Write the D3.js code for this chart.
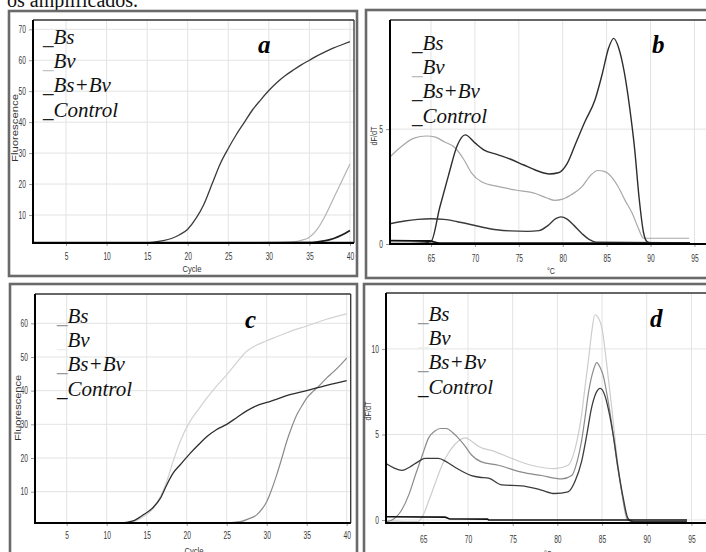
<!DOCTYPE html>
<html>
<head>
<meta charset="utf-8">
<script src="https://cdn.jsdelivr.net/npm/d3@7"></script>
<style>
body { margin: 0; background: #fff; }
svg { display: block; }
</style>
</head>
<body>
<svg id="chart" width="706" height="552"></svg>
<script>
// ---- data ----
var legendNames = ["Bs", "Bv", "Bs+Bv", "Control"];
var panelLetters = ["a", "b", "c", "d"];
var cycleTicks = [5, 10, 15, 20, 25, 30, 35, 40];
var tempTicks = [65, 70, 75, 80, 85, 90, 95];
var aYTicks = [10, 20, 30, 40, 50, 60, 70];
var bYTicks = [0, 5];
var cYTicks = [10, 20, 30, 40, 50, 60];
var dYTicks = [0, 5, 10];

// a: amplification (cycle, fluorescence)
var aBs = [[1,1],[15,1.05],[16,1.3],[17,1.7],[18,2.4],[19,3.6],[20,5.4],[21,8.8],[22,13.5],[23,20],[24,26.5],[25,31.5],[26,36],[27,40],[28,44],[29,47.2],[30,50.2],[31,52.8],[32,55],[33,56.8],[34,58.5],[35,60],[36,61.5],[37,62.8],[38,64],[39,65],[40,66]];
var aBv = [[1,1],[31,1.05],[33,1.3],[34,1.8],[35,2.8],[36,5.5],[37,10],[38,15.5],[39,21],[40,26.5]];
var aBsBv = [[1,1],[35,1.05],[36,1.3],[37,1.7],[38,2.4],[39,3.5],[40,5]];
var aCtrl = [[1,1],[40.5,1]];

// b: melt curve (°C, dF/dT)
var bBs = [[60.35,0.02],[64.3,0.05],[65,0.1],[66,1.6],[67,3.0],[68,4.3],[68.9,4.75],[70,4.4],[71,4.1],[72.5,3.9],[74,3.7],[75.5,3.45],[77,3.2],[78.5,3.05],[79.5,3.1],[80.5,3.5],[81.5,4.4],[82.5,5.3],[83.7,6.3],[84.5,7.4],[85.2,8.5],[85.8,8.95],[86.4,8.5],[87,7.5],[87.6,6.0],[88.2,4.1],[88.7,2.0],[89.2,0.5],[89.6,0.1],[90,0.05],[94.5,0.05]];
var bBv = [[60.35,3.8],[61.5,4.2],[63,4.6],[64.5,4.7],[65.5,4.65],[66.5,4.45],[67.7,4.2],[68.7,3.7],[69.6,3.1],[70.8,2.7],[72.7,2.5],[74.6,2.35],[76.9,2.2],[78.2,2.0],[79.1,1.9],[80,1.95],[81,2.15],[82.2,2.5],[83.2,3.0],[84,3.2],[84.8,3.15],[85.6,2.9],[86.3,2.5],[87.1,1.9],[87.9,1.35],[88.6,0.7],[89.2,0.25],[89.6,0.25],[94.4,0.25]];
var bBsBv = [[60.35,0.88],[62,1.0],[63.5,1.07],[65,1.1],[66.5,1.07],[68,0.97],[69.5,0.85],[71,0.72],[72.5,0.62],[74,0.57],[76,0.55],[77.3,0.58],[78.3,0.8],[79.2,1.1],[79.8,1.18],[80.5,1.08],[81.3,0.8],[82.2,0.45],[83,0.2],[83.8,0.08],[94.5,0.05]];
var bCtrl = [[60.35,0.15],[64.8,0.13],[66,0.04],[94.5,0.04]];

// c: amplification (cycle, fluorescence)
var cBs = [[1,0.7],[25,0.75],[26.7,1.1],[27.8,2],[28.75,3.1],[29.4,4.8],[30,7],[30.6,10.5],[31.25,15],[31.9,20],[32.5,24.9],[33.1,29],[33.75,32.8],[34.4,35.5],[35,37.8],[35.8,39.8],[36.7,41.8],[37.5,43.8],[38.3,45.5],[39.2,47.6],[40,49.7]];
var cBv = [[1,0.7],[12,0.75],[13.3,1.1],[14.5,2.5],[15.8,5],[16.7,8.5],[17.5,13],[18.3,19],[19.2,25],[20.4,30.8],[21.5,34.5],[22.5,37.8],[23.7,41.3],[25,44.7],[26.2,48.2],[27.5,51.7],[28.7,53.5],[30,54.8],[32.5,57.2],[35,59.2],[37.5,61.2],[40,62.8]];
var cBsBv = [[1,0.7],[12,0.75],[13.3,1.3],[14.5,3],[15.8,5.3],[16.7,8],[17.5,12],[18.3,15.5],[19.2,18],[20.4,21.3],[21.5,24],[22.5,26.3],[23.7,28.4],[25,30],[26.2,31.9],[27.5,34],[28.7,35.5],[30,36.5],[31.2,37.4],[32.5,38.5],[35,40],[37.5,41.6],[40,43]];
var cCtrl = [[1,0.6],[40.5,0.6]];

// d: melt curve (°C, dF/dT)
var dBs = [[60.83,-0.1],[61.5,0],[62.6,0.6],[63.4,1.5],[64.1,2.6],[64.9,3.8],[65.6,4.8],[66.3,5.2],[66.9,5.35],[67.6,5.35],[68.3,5.1],[68.9,4.8],[69.7,4.3],[70.4,3.8],[71.5,3.4],[73.4,3.2],[76,2.8],[78.2,2.6],[80.5,2.4],[81.6,2.6],[82.2,3.4],[82.7,4.6],[83.1,6],[83.5,7.5],[84,8.7],[84.4,9.2],[84.8,8.9],[85.1,8.5],[85.6,7.2],[86.1,5.55],[86.6,3.6],[87.2,1.65],[87.6,0.5],[87.9,0],[88.5,-0.1],[94.5,-0.1]];
var dBv = [[60.83,-0.05],[64.4,-0.1],[65,0.3],[65.6,1.1],[66.3,2.1],[67.1,3.2],[67.8,3.9],[68.5,4.4],[69.7,4.8],[70.4,4.6],[71.2,4.3],[73,4.0],[74.9,3.6],[77.1,3.2],[79.7,3.0],[81.2,3.2],[82,4.2],[82.7,6.1],[83.1,7.8],[83.5,9.45],[83.9,11.2],[84.2,12.0],[84.6,11.8],[85,11.2],[85.5,9.2],[86.1,6.5],[86.6,4],[87.2,1.65],[87.8,0],[88.5,-0.12],[94.5,-0.12]];
var dBsBv = [[60.83,3.3],[61.7,3.05],[62.6,2.9],[63.5,3.1],[64.4,3.4],[65.2,3.6],[66.7,3.6],[67.6,3.4],[68.5,3.1],[70.4,2.6],[71.3,2.5],[72.3,2.45],[73.8,2.05],[76,2.0],[78.2,1.75],[79.7,1.55],[81.2,1.65],[82,2.3],[82.7,3.4],[83.3,5],[83.8,6.5],[84.3,7.4],[84.8,7.7],[85.3,7.3],[85.7,6.5],[86.3,4.8],[86.8,3.0],[87.4,1.2],[87.9,0.1],[88.5,-0.1],[94.5,-0.1]];
var dCtrl = [[60.83,0.19],[67.4,0.17],[68,0.06],[72.2,0.05],[72.3,0.0],[94.5,0.0]];

// ---- drawing ----
var svg = d3.select('#chart');
svg.append('rect').attr('width', 706).attr('height', 552).attr('fill', '#fff');

var serif = 'Liberation Serif, DejaVu Serif, serif';
var sans = 'Liberation Sans, Arial, sans-serif';

// caption cut at the top of the image
svg.append('text')
    .attr('x', 7).attr('y', 7)
    .attr('font-family', serif)
    .attr('font-size', 20)
    .attr('fill', '#111')
    .text('os amplificados.');

var panels = [
    {letter: panelLetters[0], frame: [9, 11, 348, 265], left: 33, right: 354, top: 20, bottom: 243,
     xDom: [0.93, 40.5], yDom: [0.95, 73], xTicks: cycleTicks, yTicks: aYTicks, xPad: 7,
     xTitle: 'Cycle', xTitleX: 192, xTitleY: 272, xTitleLen: 19,
     yTitle: 'Fluorescence', yTitleX: 18, yTitleY: 128, yTitleLen: 68,
     series: [aBs, aBv, aBsBv, aCtrl], colors: ['#3a3a3a', '#b4b4b4', '#1e1e1e', '#111'],
     widths: [1.3, 1.2, 1.7, 2],
     marks: ['#333', '#c4c4c4', '#222', '#222'],
     legX: 43, legY: 43.5, letterX: 258, letterY: 53},
    {letter: panelLetters[1], frame: [366, 10, 345, 268], left: 390, right: 712, top: 20, bottom: 244,
     xDom: [60.33, 97], yDom: [0, 9.75], xTicks: tempTicks, yTicks: bYTicks, xPad: 8,
     xTitle: '°C', xTitleX: 551, xTitleY: 274, xTitleLen: 8,
     yTitle: 'dF/dT', yTitleX: 377, yTitleY: 136, yTitleLen: 19,
     series: [bBs, bBv, bBsBv, bCtrl], colors: ['#2e2e2e', '#a8a8a8', '#3a3a3a', '#111'],
     widths: [1.4, 1.2, 1.4, 1.8],
     marks: ['#222', '#bbb', '#222', '#222'],
     legX: 412, legY: 49.5, letterX: 652, letterY: 53},
    {letter: panelLetters[2], frame: [10, 284, 347, 275], left: 35, right: 350.7, top: 294, bottom: 523,
     xDom: [1.04, 40.5], yDom: [0.7, 68.7], xTicks: cycleTicks, yTicks: cYTicks, xPad: 6,
     xTitle: 'Cycle', xTitleX: 194, xTitleY: 554, xTitleLen: 19,
     yTitle: 'Fluorescence', yTitleX: 21, yTitleY: 408, yTitleLen: 66,
     series: [cBs, cBv, cBsBv, cCtrl], colors: ['#8a8a8a', '#d2d2d2', '#2e2e2e', '#111'],
     widths: [1.2, 1.2, 1.3, 1.8],
     marks: ['#999', '#eee', '#999', '#111'],
     legX: 57, legY: 322.5, letterX: 245, letterY: 328},
    {letter: panelLetters[3], frame: [364, 284, 347, 275], left: 386, right: 712, top: 293, bottom: 523,
     xDom: [60.83, 97.3], yDom: [-0.175, 13.27], xTicks: tempTicks, yTicks: dYTicks, xPad: 10,
     xTitle: '°C', xTitleX: 548, xTitleY: 557, xTitleLen: 8,
     yTitle: 'dF/dT', yTitleX: 371, yTitleY: 411, yTitleLen: 19,
     series: [dBs, dBv, dBsBv, dCtrl], colors: ['#8a8a8a', '#cdcdcd', '#3c3c3c', '#111'],
     widths: [1.2, 1.2, 1.3, 1.6],
     marks: ['#999', '#eee', '#999', '#111'],
     legX: 418, legY: 320.5, letterX: 650, letterY: 327}
];

function squeeze(sel, w) {
    sel.attr('textLength', function(d) { return String(d).length * w; })
       .attr('lengthAdjust', 'spacingAndGlyphs');
}

function drawPanel(p, idx) {
    var g = svg.append('g').attr('class', 'panel');

    // outer frame of the panel
    g.append('rect')
        .attr('x', p.frame[0]).attr('y', p.frame[1])
        .attr('width', p.frame[2]).attr('height', p.frame[3])
        .attr('fill', 'none').attr('stroke', '#6a6a6a').attr('stroke-width', 2.6);

    var x = d3.scaleLinear().domain(p.xDom).range([p.left, p.right]);
    var y = d3.scaleLinear().domain(p.yDom).range([p.bottom, p.top]);

    // grid
    g.selectAll('.vgrid').data(p.xTicks).enter().append('line')
        .attr('x1', function(d) { return x(d); }).attr('x2', function(d) { return x(d); })
        .attr('y1', p.top).attr('y2', p.bottom)
        .attr('stroke', '#e3e3e3').attr('stroke-width', 1);
    g.selectAll('.hgrid').data(p.yTicks).enter().append('line')
        .attr('x1', p.left).attr('x2', p.right)
        .attr('y1', function(d) { return y(d); }).attr('y2', function(d) { return y(d); })
        .attr('stroke', '#e3e3e3').attr('stroke-width', 1);

    // axes
    var xa = g.append('g').attr('transform', 'translate(0,' + p.bottom + ')')
        .call(d3.axisBottom(x).tickValues(p.xTicks).tickSize(3).tickPadding(p.xPad));
    var ya = g.append('g').attr('transform', 'translate(' + p.left + ',0)')
        .call(d3.axisLeft(y).tickValues(p.yTicks).tickSize(4).tickPadding(3));
    [xa, ya].forEach(function(a) {
        a.select('.domain').remove();
        a.selectAll('line').attr('stroke', '#999');
        a.selectAll('text')
            .attr('font-family', sans)
            .attr('font-size', 10)
            .attr('fill', '#3a3a3a');
        squeeze(a.selectAll('text'), 3.7);
    });

    // curves
    var clipId = 'clip' + idx;
    g.append('clipPath').attr('id', clipId).append('rect')
        .attr('x', p.left).attr('y', p.top - 1)
        .attr('width', p.right - p.left).attr('height', p.bottom - p.top + 2);

    var line = d3.line()
        .x(function(d) { return x(d[0]); })
        .y(function(d) { return y(d[1]); })
        .curve(d3.curveMonotoneX);

    var order = [1, 0, 2, 3];
    order.forEach(function(i) {
        g.append('path')
            .datum(p.series[i])
            .attr('clip-path', 'url(#' + clipId + ')')
            .attr('d', line)
            .attr('fill', 'none')
            .attr('stroke', p.colors[i])
            .attr('stroke-width', p.widths[i])
            .attr('stroke-linejoin', 'round');
    });

    // plot box: thin top/right, heavy left/bottom
    g.append('line').attr('x1', p.left).attr('x2', p.right).attr('y1', p.top).attr('y2', p.top)
        .attr('stroke', '#333').attr('stroke-width', 1.3);
    g.append('line').attr('x1', p.right).attr('x2', p.right).attr('y1', p.top).attr('y2', p.bottom)
        .attr('stroke', '#333').attr('stroke-width', 1.3);
    g.append('line').attr('x1', p.left).attr('x2', p.left).attr('y1', p.top).attr('y2', p.bottom + 1)
        .attr('stroke', '#000').attr('stroke-width', 2);
    g.append('line').attr('x1', p.left - 1).attr('x2', p.right).attr('y1', p.bottom).attr('y2', p.bottom)
        .attr('stroke', '#000').attr('stroke-width', 2);

    // axis titles
    g.append('text')
        .attr('x', p.xTitleX).attr('y', p.xTitleY)
        .attr('text-anchor', 'middle')
        .attr('textLength', p.xTitleLen).attr('lengthAdjust', 'spacingAndGlyphs')
        .attr('font-family', sans)
        .attr('font-size', 9.5)
        .attr('fill', '#333')
        .text(p.xTitle);
    g.append('text')
        .attr('transform', 'translate(' + p.yTitleX + ',' + p.yTitleY + ') rotate(-90)')
        .attr('text-anchor', 'middle')
        .attr('textLength', p.yTitleLen).attr('lengthAdjust', 'spacingAndGlyphs')
        .attr('font-family', sans)
        .attr('font-size', 9.5)
        .attr('fill', '#333')
        .text(p.yTitle);

    // legend: coloured underscore + italic name
    legendNames.forEach(function(name, i) {
        var t = g.append('text')
            .attr('x', p.legX).attr('y', p.legY + i * 24.4)
            .attr('font-family', serif)
            .attr('font-style', 'italic')
            .attr('font-size', 21);
        t.append('tspan').attr('fill', p.marks[i]).text('_');
        t.append('tspan').attr('fill', '#111').text(name);
    });

    // panel letter
    g.append('text')
        .attr('x', p.letterX).attr('y', p.letterY)
        .attr('font-family', serif)
        .attr('font-style', 'italic')
        .attr('font-weight', 'bold')
        .attr('font-size', 25)
        .attr('fill', '#000')
        .text(p.letter);
}

panels.forEach(drawPanel);
</script>
</body>
</html>
